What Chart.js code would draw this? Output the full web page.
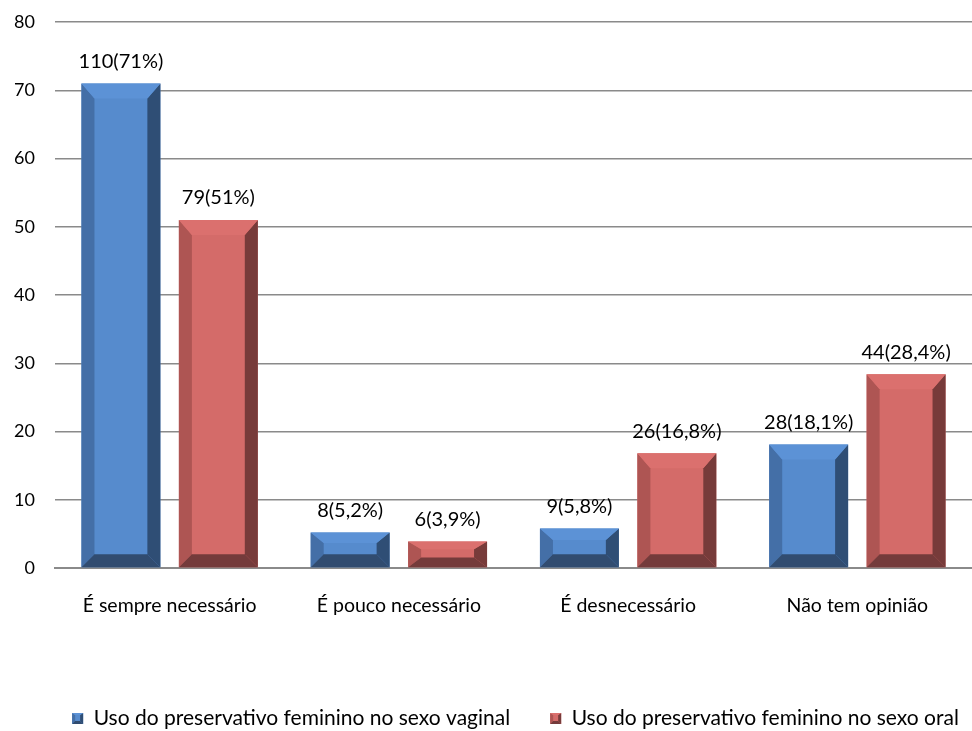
<!DOCTYPE html>
<html>
<head>
<meta charset="utf-8">
<script src="https://cdn.jsdelivr.net/npm/chart.js@4"></script>
<style>
html,body{margin:0;padding:0;background:#fff;}
#wrap{width:972px;height:731px;}
</style>
</head>
<body>
<div id="wrap"><canvas id="c" width="972" height="731"></canvas></div>
<script>
const categories = ['É sempre necessário', 'É pouco necessário', 'É desnecessário', 'Não tem opinião'];
const vaginalPct = [71, 5.2, 5.8, 18.1];
const oralPct = [51, 3.9, 16.8, 28.4];
const vaginalLabels = ['110(71%)', '8(5,2%)', '9(5,8%)', '28(18,1%)'];
const oralLabels = ['79(51%)', '6(3,9%)', '26(16,8%)', '44(28,4%)'];
const seriesNames = ['Uso do preservativo feminino no sexo vaginal', 'Uso do preservativo feminino no sexo oral'];
const yTicks = [0, 10, 20, 30, 40, 50, 60, 70, 80];

const FONT = 'Lato, "Open Sans", sans-serif';
const shades = [
  {face:'#568BCD', top:'#5C92D6', left:'#446FA7', right:'#2F4E75', bottom:'#314C70'},
  {face:'#D46B69', top:'#DB706E', left:'#AE5553', right:'#773B3A', bottom:'#743B3B'}
];
const allLabels = [vaginalLabels, oralLabels];

function poly(ctx, pts, color){
  ctx.beginPath();
  ctx.moveTo(pts[0][0], pts[0][1]);
  for (let i=1;i<pts.length;i++) ctx.lineTo(pts[i][0], pts[i][1]);
  ctx.closePath();
  ctx.fillStyle = color;
  ctx.fill();
}

function drawBevel(ctx, x0, y0, x1, y1, s, b, bt, bb){
  poly(ctx, [[x0,y0],[x0+b,y0+bt],[x0+b,y1-bb],[x0,y1]], s.left);
  poly(ctx, [[x1,y0],[x1-b,y0+bt],[x1-b,y1-bb],[x1,y1]], s.right);
  poly(ctx, [[x0,y0],[x1,y0],[x1-b,y0+bt],[x0+b,y0+bt]], s.top);
  poly(ctx, [[x0,y1],[x1,y1],[x1-b,y1-bb],[x0+b,y1-bb]], s.bottom);
}

const bevelPlugin = {
  id: 'bevel',
  afterLayout(chart){
    // centre the legend under the plot area, as in the original
    const lg = chart.legend;
    if (!lg) return;
    const target = (chart.chartArea.left + chart.chartArea.right) / 2 + 2;
    const shift = target - (lg.left + lg.right) / 2;
    lg.left += shift; lg.right += shift;
  },
  afterDatasetsDraw(chart){
    const ctx = chart.ctx;
    chart.data.datasets.forEach((ds, di) => {
      const meta = chart.getDatasetMeta(di);
      const s = shades[di];
      meta.data.forEach((el, i) => {
        const p = el.getProps(['x','y','base','width'], true);
        const x0 = p.x - p.width/2, x1 = p.x + p.width/2;
        const y0 = p.y, y1 = p.base;
        const h = y1 - y0;
        ctx.save();
        drawBevel(ctx, x0, y0, x1, y1, s, 13, Math.min(15, h*0.3), Math.min(13, h*0.38));
        ctx.restore();
        ctx.save();
        ctx.font = '20px ' + FONT;
        ctx.fillStyle = '#000';
        ctx.textAlign = 'center';
        ctx.textBaseline = 'bottom';
        ctx.fillText(allLabels[di][i], p.x, y0 - 12);
        ctx.restore();
      });
    });
  },
  afterDraw(chart){
    const lg = chart.legend;
    if (!lg || !lg.legendHitBoxes) return;
    const ctx = chart.ctx;
    lg.legendHitBoxes.forEach((hb, i) => {
      const bw = 11;
      const x0 = hb.left, y0 = hb.top + (hb.height - bw)/2;
      ctx.save();
      drawBevel(ctx, x0, y0, x0 + bw, y0 + bw, shades[i], 3, 2, 3);
      ctx.restore();
    });
  }
};

new Chart(document.getElementById('c'), {
  type: 'bar',
  data: {
    labels: categories,
    datasets: [
      {label: seriesNames[0], data: vaginalPct, backgroundColor: shades[0].face, borderWidth: 0},
      {label: seriesNames[1], data: oralPct, backgroundColor: shades[1].face, borderWidth: 0}
    ]
  },
  options: {
    responsive: false,
    animation: false,
    devicePixelRatio: 1,
    layout: {padding: {top: 0, right: 0, left: 0, bottom: -8}},
    categoryPercentage: 0.85,
    barPercentage: 0.81,
    scales: {
      x: {
        grid: {display: false, drawTicks: false},
        border: {display: true, color: '#8a8a8a', width: 2},
        ticks: {color: '#000', font: {family: FONT, size: 19.5}, padding: 26, maxRotation: 0},
        afterFit(scale){ scale.height = 100; }
      },
      y: {
        min: 0, max: 80,
        afterBuildTicks(scale){ scale.ticks = yTicks.map(v => ({value: v})); },
        grid: {color: '#8a8a8a', lineWidth: 1.5, drawTicks: false},
        border: {display: false},
        ticks: {color: '#000', font: {family: FONT, size: 18}, padding: 20},
        afterFit(scale){ scale.width = 55; scale.paddingTop = 22; scale.paddingBottom = 11; }
      }
    },
    plugins: {
      legend: {
        position: 'bottom',
        align: 'center',
        labels: {
          color: '#000',
          font: {family: FONT, size: 21},
          boxWidth: 11, boxHeight: 11,
          padding: 40
        }
      },
      tooltip: {enabled: false}
    }
  },
  plugins: [bevelPlugin]
});
</script>
</body>
</html>
